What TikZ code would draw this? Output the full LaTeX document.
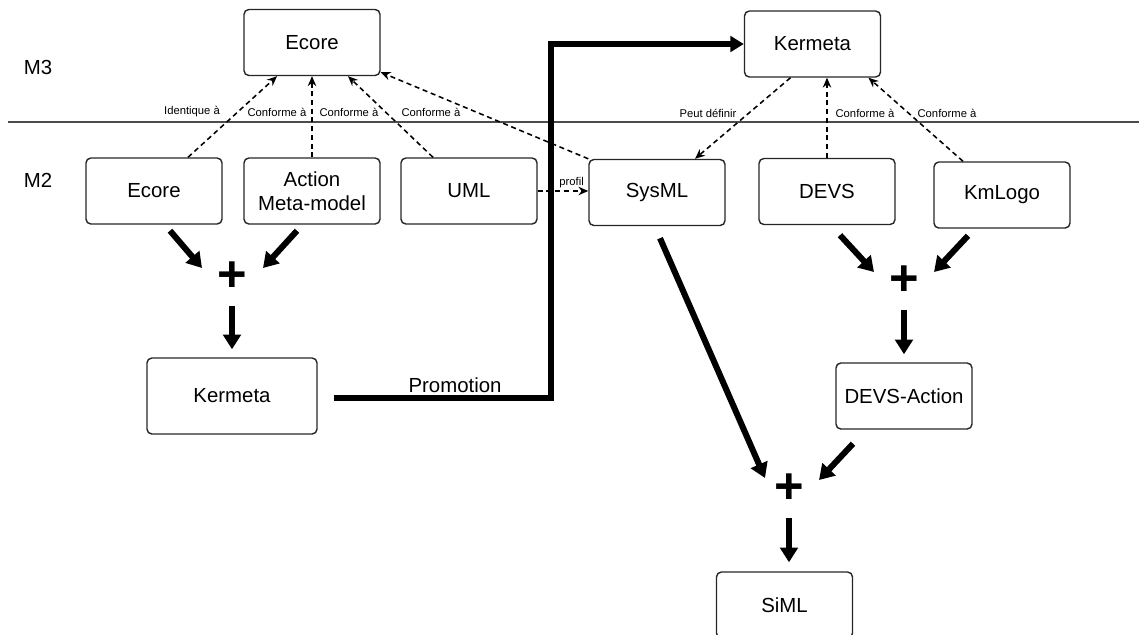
\documentclass[tikz,border=0pt]{standalone}
\usepackage{fontspec}
\setmainfont{Liberation Sans}
\usetikzlibrary{arrows.meta}
\begin{document}
\begin{tikzpicture}[x=0.025cm, y=-0.025cm,
  box/.style={draw=black!85, rounded corners=3.5pt, line width=1pt, minimum width=3.4cm, minimum height=1.65cm, inner sep=0pt, align=center, font=\fontsize{14.5}{17}\selectfont},
  lbl/.style={font=\fontsize{8}{9}\selectfont, inner sep=0pt},
  plus/.style={font=\fontsize{36}{36}\selectfont\bfseries, inner sep=0pt},
  dep/.style={line width=1.1pt, dash pattern=on 3.6pt off 2.6pt, -{Stealth[length=7pt,width=6pt]}},
  flow/.style={line width=4.3pt, -{Triangle[length=10.5pt,width=12.5pt]}}]
  \useasboundingbox (0,0) rectangle (1139,634);
  \clip (0,0) rectangle (1139,634);

  % Layers
  \draw[line width=1pt, black!70] (8,122) -- (1139,122);
  \node[font=\fontsize{14.5}{17}\selectfont] (m3) at (38,67) {M3};
  \node[font=\fontsize{14.5}{17}\selectfont] (m2) at (38,180) {M2};

  % Boxes
  \node[box] (ecoreT) at (312,42.5) {Ecore};
  \node[box] (kermetaT) at (812.5,44) {Kermeta};
  \node[box] (ecoreB) at (154,191) {Ecore};
  \node[box] (action) at (312,191) {Action\\Meta-model};
  \node[box] (uml) at (469,191) {UML};
  \node[box] (sysml) at (657,192.5) {SysML};
  \node[box] (devs) at (827,191.5) {DEVS};
  \node[box] (kmlogo) at (1002,195) {KmLogo};
  \node[box, minimum width=4.25cm, minimum height=1.9cm] (kermetaB) at (232,396) {Kermeta};
  \node[box] (devsaction) at (904,396) {DEVS-Action};
  \node[box] (siml) at (784.5,605) {SiML};

  % Plus signs
  \node[plus] (plusA) at (232,277) {+};
  \node[plus] (plusB) at (904,281) {+};
  \node[plus] (plusC) at (789,489) {+};

  % Conformance links
  \draw[dep] ([shift={(34,0)}]ecoreB.north) -- ([shift={(-35,0)}]ecoreT.south);
  \draw[dep] (action.north) -- (ecoreT.south);
  \draw[dep] ([shift={(-36,0)}]uml.north) -- ([shift={(36,0)}]ecoreT.south);
  \draw[dep] (sysml.north west) -- ([shift={(0,-4)}]ecoreT.south east);
  \draw[dep] ([shift={(-22,0)}]kermetaT.south) -- ([shift={(38,0)}]sysml.north);
  \draw[dep] (devs.north) -- (devs.north |- kermetaT.south);
  \draw[dep] ([shift={(-39,0)}]kmlogo.north) -- ([shift={(56,0)}]kermetaT.south);
  \draw[dep] (uml.east) -- (uml.east -| sysml.west) node[lbl, pos=0.67, above=2pt] (lprofil) {profil};

  % Link labels
  \node[lbl] (lident) at (192,112) {Identique à};
  \node[lbl] (lconfA) at (277,112) {Conforme à};
  \node[lbl] (lconfB) at (349,112) {Conforme à};
  \node[lbl] (lconfC) at (431,112) {Conforme à};
  \node[lbl] (lpeut) at (708,113) {Peut définir};
  \node[lbl] (lconfD) at (865,113) {Conforme à};
  \node[lbl] (lconfE) at (947,113) {Conforme à};

  % Compositions
  \draw[flow] ([shift={(16,6)}]ecoreB.south) -- ([shift={(-30,-9)}]plusA.center);
  \draw[flow] ([shift={(-15,6)}]action.south) -- ([shift={(31,-9)}]plusA.center);
  \draw[flow] ([shift={(0,29)}]plusA.center) -- ([shift={(0,-8)}]kermetaB.north);
  \draw[flow] ([shift={(13,10)}]devs.south) -- ([shift={(-30,-9)}]plusB.center);
  \draw[flow] ([shift={(-34,7)}]kmlogo.south) -- ([shift={(30,-9)}]plusB.center);
  \draw[flow] ([shift={(0,29)}]plusB.center) -- ([shift={(0,-8)}]devsaction.north);
  \draw[flow] ([shift={(3,12)}]sysml.south) -- ([shift={(-24,-11)}]plusC.center);
  \draw[flow] ([shift={(-51,14)}]devsaction.south) -- ([shift={(30,-9)}]plusC.center);
  \draw[flow, shorten >=6.4pt] ([shift={(0,29)}]plusC.center) -- (plusC.center |- siml.north);

  % Promotion
  \draw[line width=4.5pt, -{Triangle[length=9.5pt,width=11pt]}] ([shift={(16,2)}]kermetaB.east) -- ++(217,0) |- (kermetaT.west);
  \node[font=\fontsize{14.5}{17}\selectfont] (promo) at (455,385) {Promotion};
\end{tikzpicture}
\end{document}
